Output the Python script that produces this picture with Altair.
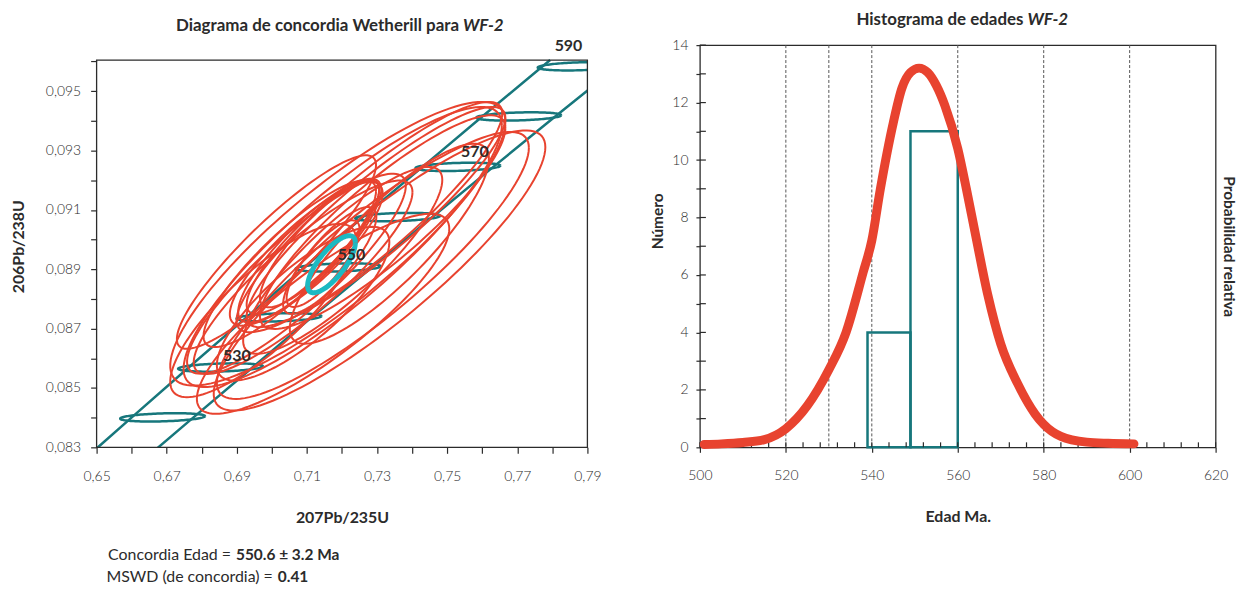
import altair as alt
import numpy as np
import pandas as pd

FONT = "Lato"
TEAL = "#17777c"
RED = "#e8432f"
CYAN = "#1cb9c2"
INK = "#2b2b2b"

# ---------------- left panel: concordia diagram ----------------
x_frame = [0.65, 0.79]
y_frame = [0.083, 0.09605]

conc_age = [500, 510, 520, 530, 540, 550, 560, 570, 580, 590, 600]
conc_x = [0.63628, 0.65247, 0.66883, 0.68535, 0.70203, 0.71887, 0.73588, 0.75306, 0.77041, 0.78793, 0.80563]
conc_y = [0.08065, 0.08233, 0.08401, 0.08569, 0.08738, 0.08906, 0.09076, 0.09245, 0.09415, 0.09584, 0.09754]
band_half = [0.0083, 0.0085, 0.0088, 0.0091, 0.0093, 0.0096, 0.0099, 0.0101, 0.0104, 0.0107, 0.0110]

mark_age = [520, 530, 540, 550, 560, 570, 580, 590]
mark_half_x = 0.0121
mark_half_y = 0.00014
mark_rho = 0.3

label_text = ["530", "550", "570", "590"]
label_x = [0.6900, 0.7227, 0.7579, 0.7846]
label_y = [0.08609, 0.08947, 0.09294, 0.09651]

ell_cx = [0.7307, 0.7288, 0.7188, 0.7202, 0.7013, 0.7297, 0.7316, 0.7278, 0.7335, 0.7108, 0.7117,
          0.7098, 0.7136, 0.7146, 0.7165, 0.7089, 0.6975, 0.7146, 0.7070, 0.7089, 0.7202, 0.7051]
ell_cy = [0.08896, 0.08913, 0.08986, 0.08975, 0.08958, 0.09076, 0.09059, 0.09076, 0.08986, 0.08963, 0.08975,
          0.08952, 0.08986, 0.08919, 0.08930, 0.08784, 0.08761, 0.08750, 0.08885, 0.08873, 0.08930, 0.08919]
ell_sx = [0.0473, 0.0445, 0.0478, 0.0454, 0.0284, 0.0369, 0.0350, 0.0379, 0.0284, 0.0204, 0.0189,
          0.0218, 0.0170, 0.0104, 0.0133, 0.0246, 0.0265, 0.0360, 0.0312, 0.0312, 0.0284, 0.0246]
ell_sy = [0.00472, 0.00450, 0.00478, 0.00472, 0.00326, 0.00371, 0.00360, 0.00388, 0.00337, 0.00242, 0.00225,
          0.00242, 0.00214, 0.00146, 0.00180, 0.00259, 0.00292, 0.00337, 0.00337, 0.00326, 0.00315, 0.00281]
ell_rho = [0.88, 0.88, 0.86, 0.87, 0.90, 0.90, 0.88, 0.90, 0.85, 0.85, 0.86,
           0.84, 0.85, 0.80, 0.82, 0.80, 0.82, 0.85, 0.88, 0.88, 0.86, 0.87]

age_cx, age_cy, age_sx, age_sy, age_rho = 0.7170, 0.08917, 0.0068, 0.00096, 0.75

x_tick_vals = [round(0.65 + 0.01 * i, 2) for i in range(15)]
y_tick_vals = [round(0.083 + 0.001 * i, 3) for i in range(14)]

title_left_a = "Diagrama de concordia Wetherill para"
title_left_b = "WF-2"
foot_a = ["Concordia Edad =", "MSWD (de concordia) ="]
foot_b = ["550.6 ± 3.2 Ma", "0.41"]

# ---------------- right panel: histogram ----------------
hist_start = [539, 549]
hist_end = [549, 560]
hist_count = [4, 11]
guide_ages = [520, 530, 540, 560, 580, 600]
curve_age = [501, 505, 510, 515, 520, 525, 530, 534, 538, 540, 542, 545, 547, 549, 551, 553, 555,
             557, 560, 562, 564, 567, 570, 574, 578, 580, 584, 590, 595, 601]
curve_val = [0.10, 0.12, 0.17, 0.27, 0.65, 1.45, 2.7, 4.0, 6.1, 7.2, 9.0, 11.3, 12.5, 13.05, 13.2, 13.05,
             12.6, 11.9, 10.4, 9.0, 7.5, 5.3, 3.6, 2.2, 1.16, 0.8, 0.38, 0.18, 0.14, 0.12]
minor_x = list(range(500, 621, 4))
y_ticks_r = list(range(0, 15))
title_right_a = "Histograma de edades"
title_right_b = "WF-2"


def ellipse(cx, cy, sx, sy, rho, key, n=120):
    t = np.linspace(0, 2 * np.pi, n)
    return pd.DataFrame({
        "id": key, "i": np.arange(n),
        "x": cx + sx * np.cos(t),
        "y": cy + sy * (rho * np.cos(t) + np.sqrt(1 - rho ** 2) * np.sin(t)),
    })


def cut_line(xv, yv, ytop):
    # keep the part of a rising line that lies below the frame top
    xv = np.asarray(xv); yv = np.asarray(yv)
    keep = yv <= ytop
    xs_ = list(xv[keep]); ys_ = list(yv[keep])
    xs_.append(float(np.interp(ytop, yv, xv))); ys_.append(ytop)
    return xs_, ys_


W1, H1 = 493, 389
W2, H2 = 518, 404
TOP = 44  # page y of both view tops
y_top_view = y_frame[0] + (y_frame[1] - y_frame[0]) * H2 / H1

xs = alt.Scale(domain=x_frame, nice=False, zero=False)
ys = alt.Scale(domain=[y_frame[0], y_top_view], nice=False, zero=False)
xaxis = alt.Axis(title="207Pb/235U", values=x_tick_vals, tickSize=6, labelPadding=16, titlePadding=27,
                 labelFlush=False,
                 labelExpr="round(datum.value*100)%2==1 ? replace(format(datum.value,'.2f'),'.',',') : ''")
yaxis = alt.Axis(title="206Pb/238U", values=y_tick_vals, tickSize=6, labelPadding=10, titlePadding=19,
                 labelFlush=False,
                 labelExpr="round(datum.value*1000)%2==1 ? replace(format(datum.value,'.3f'),'.',',') : ''")

X = lambda f: alt.X(f, scale=xs, axis=xaxis)
Y = lambda f: alt.Y(f, scale=ys, axis=yaxis)

band_rows = []
for side, sgn in (("upper", -1), ("lower", 1)):
    bx = [cx_ + sgn * h for cx_, h in zip(conc_x, band_half)]
    lx, ly = cut_line(bx, conc_y, y_frame[1])
    for k, (a, b) in enumerate(zip(lx, ly)):
        band_rows.append({"side": side, "k": k, "x": a, "y": b})
band_df = pd.DataFrame(band_rows)

cmap = dict(zip(conc_age, zip(conc_x, conc_y)))
teal_df = pd.concat([ellipse(cmap[a][0], cmap[a][1], mark_half_x, mark_half_y, mark_rho, f"t{a}")
                     for a in mark_age])
red_df = pd.concat([ellipse(*p, f"r{k}") for k, p in
                    enumerate(zip(ell_cx, ell_cy, ell_sx, ell_sy, ell_rho))])
cyan_df = ellipse(age_cx, age_cy, age_sx, age_sy, age_rho, "age")
lab_df = pd.DataFrame({"t": label_text, "x": label_x, "y": label_y})
frame_df = pd.DataFrame({"x": [x_frame[0]], "x2": [x_frame[1]], "y": [y_frame[0]], "y2": [y_frame[1]]})

frame = alt.Chart(frame_df).mark_rect(fillOpacity=0, stroke=INK, strokeWidth=1.3).encode(
    x=X("x:Q"), x2="x2:Q", y=Y("y:Q"), y2="y2:Q")
band = alt.Chart(band_df).mark_line(clip=True, color=TEAL, strokeWidth=2.5).encode(
    x=X("x:Q"), y=Y("y:Q"), detail="side:N", order="k:Q")
teal = alt.Chart(teal_df).mark_line(clip=True, color=TEAL, strokeWidth=2.5).encode(
    x=X("x:Q"), y=Y("y:Q"), detail="id:N", order="i:Q")
red = alt.Chart(red_df).mark_line(clip=True, color=RED, strokeWidth=2).encode(
    x=X("x:Q"), y=Y("y:Q"), detail="id:N", order="i:Q")
cyan = alt.Chart(cyan_df).mark_line(clip=True, color=CYAN, strokeWidth=5).encode(
    x=X("x:Q"), y=Y("y:Q"), detail="id:N", order="i:Q")
labels = alt.Chart(lab_df).mark_text(font=FONT, fontSize=16, fontWeight="bold", color=INK).encode(
    x=X("x:Q"), y=Y("y:Q"), text="t:N")

tl_df = pd.DataFrame({"a": [title_left_a], "b": [title_left_b]})
tl_a = alt.Chart(tl_df).mark_text(font=FONT, fontSize=17, fontWeight="bold", color=INK, align="right",
                                  baseline="middle").encode(x=alt.value(364), y=alt.value(25 - TOP), text="a:N")
tl_b = alt.Chart(tl_df).mark_text(font=FONT, fontSize=17, fontWeight="bold", fontStyle="italic", color=INK,
                                  align="left", baseline="middle").encode(x=alt.value(368), y=alt.value(25 - TOP),
                                                                          text="b:N")
foot_df = pd.DataFrame({"a": foot_a, "b": foot_b, "yy": [556 - TOP, 578 - TOP], "xa": [135, 177], "xb": [140, 182]})
fa = alt.Chart(foot_df).mark_text(font=FONT, fontSize=16, color=INK, align="right", baseline="middle").encode(
    x=alt.X("xa:Q", scale=None), y=alt.Y("yy:Q", scale=None), text="a:N")
fb = alt.Chart(foot_df).mark_text(font=FONT, fontSize=15.5, fontWeight="bold", color=INK, align="left",
                                  baseline="middle").encode(
    x=alt.X("xb:Q", scale=None), y=alt.Y("yy:Q", scale=None), text="b:N")

left = alt.layer(band, teal, red, cyan, frame, labels, tl_a, tl_b, fa, fb).properties(
    width=W1, height=H2, view=alt.ViewBackground(strokeOpacity=0))

# ---------------- right chart ----------------
hx = alt.Scale(domain=[500, 620], nice=False, zero=False)
hy = alt.Scale(domain=[0, 14], nice=False)
hxaxis = alt.Axis(title="Edad Ma.", values=list(range(500, 621, 20)), tickSize=5, labelPadding=16, titlePadding=27,
                  labelFlush=False)
hyaxis = alt.Axis(title=None, values=y_ticks_r, tickSize=4, labelPadding=8, labelFlush=False,
                  labelExpr="datum.value % 2 == 0 ? datum.label : ''")
HX = lambda f: alt.X(f, scale=hx, axis=hxaxis)
HY = lambda f: alt.Y(f, scale=hy, axis=hyaxis)

guides = alt.Chart(pd.DataFrame({"a": guide_ages})).mark_rule(color="#555", strokeWidth=1, strokeDash=[3, 2]).encode(
    x=HX("a:Q"))
bars = alt.Chart(pd.DataFrame({"s": hist_start, "e": hist_end, "c": hist_count})).mark_rect(
    fillOpacity=0, stroke=TEAL, strokeWidth=2.5).encode(x=HX("s:Q"), x2="e:Q", y=HY("c:Q"), y2=alt.datum(0))
mtx = alt.Chart(pd.DataFrame({"a": minor_x})).mark_rule(color=INK, strokeWidth=1.2).encode(
    x=HX("a:Q"), y=alt.value(H2), y2=alt.value(H2 - 5))
mty = alt.Chart(pd.DataFrame({"v": y_ticks_r})).mark_rule(color=INK, strokeWidth=1.2).encode(
    y=HY("v:Q"), x=alt.value(0), x2=alt.value(6))

tr_df = pd.DataFrame({"a": [title_right_a], "b": [title_right_b], "n": ["Número"]})
tr_a = alt.Chart(tr_df).mark_text(font=FONT, fontSize=17, fontWeight="bold", color=INK, align="right",
                                  baseline="middle").encode(x=alt.value(325), y=alt.value(-25.5), text="a:N")
tr_b = alt.Chart(tr_df).mark_text(font=FONT, fontSize=17, fontWeight="bold", fontStyle="italic", color=INK,
                                  align="left", baseline="middle").encode(x=alt.value(329), y=alt.value(-25.5), text="b:N")
num = alt.Chart(tr_df).mark_text(font=FONT, fontSize=15.5, fontWeight="bold", color=INK, angle=270,
                                 baseline="middle").encode(x=alt.value(-42), y=alt.value(221 - TOP), text="n:N")

inner = alt.layer(guides, bars, mtx, mty, tr_a, tr_b, num)

paxis = alt.Axis(orient="right", title="Probabilidad relativa", ticks=False, labels=False, domain=False,
                 grid=False, titlePadding=5, titleAngle=90, titleFontSize=15.5)
curve = alt.Chart(pd.DataFrame({"a": curve_age, "v": curve_val})).mark_line(
    color=RED, strokeWidth=9, strokeCap="round", strokeJoin="round", interpolate="monotone").encode(
    x=HX("a:Q"), y=alt.Y("v:Q", scale=alt.Scale(domain=[0, 14], nice=False), axis=paxis))

right = alt.layer(inner, curve).resolve_scale(y="independent").properties(
    width=W2, height=H2, view=alt.ViewBackground(stroke=INK, strokeWidth=1.3))

chart = alt.hconcat(left, right, spacing=49).properties(
    padding={"left": 2, "top": 0, "right": 2.5, "bottom": 0}
).configure_axis(
    labelFont=FONT, labelFontSize=14, labelColor=INK, labelFontWeight=300,
    titleFont=FONT, titleFontSize=16, titleFontWeight="bold", titleColor=INK,
    tickColor=INK, tickWidth=1.2, domain=False, grid=False, labelFlush=False)

chart.save("out.html", embed_options={"renderer": "svg", "actions": False})
